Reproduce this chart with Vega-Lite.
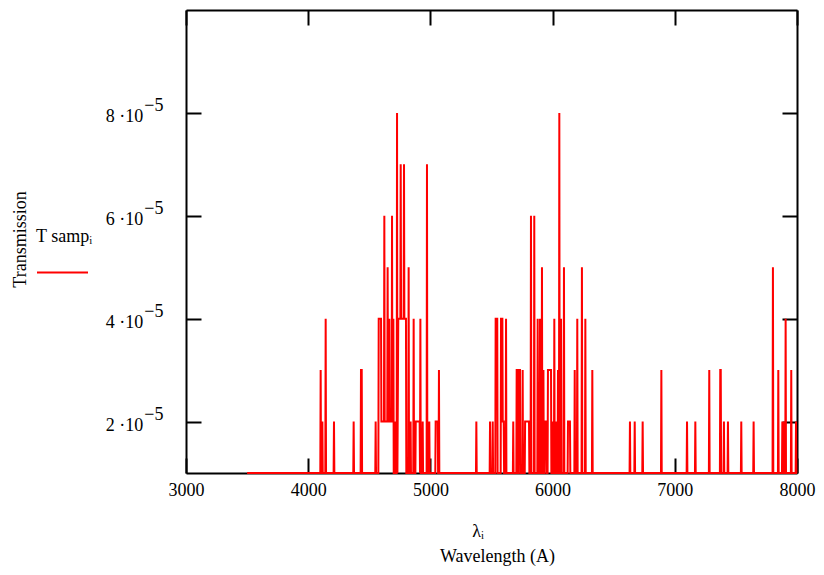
{
"$schema": "https://vega.github.io/schema/vega-lite/v6.json",
"width": 611, "height": 463,
"autosize": {"type": "none"},
"padding": {"left": 186, "top": 10, "right": 27, "bottom": 102},
"background": "white",
"config": {"view": {"stroke": null}, "font": "Liberation Serif"},
"data": {"values": [
{"w":3500,"T":1e-5},
{"w":4099,"T":1e-5},{"w":4102,"T":3e-5},{"w":4105,"T":1e-5},
{"w":4113,"T":1e-5},{"w":4116,"T":2e-5},{"w":4119,"T":1e-5},
{"w":4140,"T":1e-5},{"w":4143,"T":4e-5},{"w":4146,"T":1e-5},
{"w":4208,"T":1e-5},{"w":4211,"T":2e-5},{"w":4214,"T":1e-5},
{"w":4369,"T":1e-5},{"w":4372,"T":2e-5},{"w":4375,"T":1e-5},
{"w":4429,"T":1e-5},{"w":4432,"T":3e-5},{"w":4438,"T":3e-5},{"w":4441,"T":1e-5},
{"w":4549,"T":1e-5},{"w":4552,"T":2e-5},{"w":4555,"T":1e-5},
{"w":4574,"T":1e-5},{"w":4577,"T":4e-5},{"w":4596,"T":4e-5},{"w":4599,"T":2e-5},
{"w":4620,"T":2e-5},{"w":4623,"T":6e-5},{"w":4626,"T":2e-5},
{"w":4647,"T":2e-5},{"w":4650,"T":5e-5},{"w":4653,"T":2e-5},
{"w":4661,"T":2e-5},{"w":4664,"T":4e-5},{"w":4667,"T":2e-5},
{"w":4683,"T":2e-5},{"w":4686,"T":6e-5},{"w":4689,"T":2e-5},
{"w":4694,"T":2e-5},{"w":4697,"T":4e-5},{"w":4700,"T":1e-5},
{"w":4707,"T":1e-5},{"w":4710,"T":2e-5},{"w":4713,"T":1e-5},
{"w":4724,"T":1e-5},{"w":4727,"T":8e-5},{"w":4730,"T":1e-5},
{"w":4737,"T":4e-5},{"w":4754,"T":4e-5},{"w":4757,"T":7e-5},{"w":4760,"T":4e-5},
{"w":4781,"T":4e-5},{"w":4784,"T":7e-5},{"w":4787,"T":4e-5},{"w":4800,"T":4e-5},{"w":4803,"T":1e-5},
{"w":4819,"T":1e-5},{"w":4822,"T":5e-5},{"w":4825,"T":1e-5},
{"w":4835,"T":1e-5},{"w":4838,"T":2e-5},{"w":4841,"T":1e-5},
{"w":4860,"T":1e-5},{"w":4863,"T":4e-5},{"w":4866,"T":1e-5},
{"w":4877,"T":1e-5},{"w":4880,"T":2e-5},{"w":4912,"T":2e-5},{"w":4915,"T":1e-5},
{"w":4918,"T":4e-5},{"w":4921,"T":1e-5},
{"w":4934,"T":1e-5},{"w":4937,"T":2e-5},{"w":4940,"T":1e-5},
{"w":4969,"T":1e-5},{"w":4972,"T":7e-5},{"w":4975,"T":1e-5},
{"w":4988,"T":1e-5},{"w":4991,"T":2e-5},{"w":4994,"T":1e-5},
{"w":5040,"T":1e-5},{"w":5043,"T":2e-5},{"w":5060,"T":2e-5},{"w":5063,"T":1e-5},
{"w":5067,"T":1e-5},{"w":5070,"T":3e-5},{"w":5073,"T":1e-5},
{"w":5373,"T":1e-5},{"w":5376,"T":2e-5},{"w":5379,"T":1e-5},
{"w":5485,"T":1e-5},{"w":5488,"T":2e-5},{"w":5491,"T":1e-5},
{"w":5507,"T":1e-5},{"w":5510,"T":2e-5},{"w":5513,"T":1e-5},
{"w":5531,"T":1e-5},{"w":5534,"T":4e-5},{"w":5547,"T":4e-5},{"w":5550,"T":1e-5},
{"w":5575,"T":1e-5},{"w":5578,"T":4e-5},{"w":5589,"T":4e-5},{"w":5592,"T":2e-5},{"w":5600,"T":2e-5},{"w":5603,"T":1e-5},
{"w":5616,"T":1e-5},{"w":5619,"T":4e-5},{"w":5622,"T":1e-5},
{"w":5675,"T":1e-5},{"w":5678,"T":2e-5},{"w":5681,"T":1e-5},
{"w":5703,"T":1e-5},{"w":5706,"T":3e-5},{"w":5710,"T":3e-5},{"w":5713,"T":1e-5},
{"w":5719,"T":1e-5},{"w":5722,"T":3e-5},{"w":5733,"T":3e-5},{"w":5736,"T":1e-5},
{"w":5752,"T":1e-5},{"w":5755,"T":3e-5},{"w":5758,"T":1e-5},
{"w":5772,"T":1e-5},{"w":5775,"T":2e-5},{"w":5807,"T":2e-5},{"w":5810,"T":1e-5},
{"w":5820,"T":1e-5},{"w":5823,"T":6e-5},{"w":5826,"T":1e-5},
{"w":5847,"T":1e-5},{"w":5850,"T":6e-5},{"w":5853,"T":1e-5},
{"w":5875,"T":1e-5},{"w":5878,"T":4e-5},{"w":5881,"T":1e-5},
{"w":5894,"T":1e-5},{"w":5897,"T":4e-5},{"w":5900,"T":1e-5},
{"w":5910,"T":1e-5},{"w":5913,"T":5e-5},{"w":5916,"T":1e-5},
{"w":5922,"T":1e-5},{"w":5925,"T":3e-5},{"w":5928,"T":1e-5},
{"w":5935,"T":1e-5},{"w":5938,"T":2e-5},{"w":5950,"T":2e-5},{"w":5953,"T":1e-5},
{"w":5959,"T":1e-5},{"w":5962,"T":3e-5},{"w":5987,"T":3e-5},{"w":5990,"T":1e-5},
{"w":5995,"T":1e-5},{"w":5998,"T":2e-5},{"w":6001,"T":1e-5},
{"w":6011,"T":1e-5},{"w":6014,"T":4e-5},{"w":6017,"T":1e-5},
{"w":6025,"T":1e-5},{"w":6028,"T":2e-5},{"w":6031,"T":1e-5},
{"w":6041,"T":1e-5},{"w":6044,"T":3e-5},{"w":6047,"T":1e-5},
{"w":6052,"T":1e-5},{"w":6055,"T":8e-5},{"w":6058,"T":1e-5},
{"w":6066,"T":1e-5},{"w":6069,"T":4e-5},{"w":6072,"T":1e-5},
{"w":6090,"T":1e-5},{"w":6093,"T":5e-5},{"w":6096,"T":1e-5},
{"w":6123,"T":1e-5},{"w":6126,"T":2e-5},{"w":6142,"T":2e-5},{"w":6145,"T":1e-5},
{"w":6178,"T":1e-5},{"w":6181,"T":3e-5},{"w":6184,"T":1e-5},
{"w":6199,"T":1e-5},{"w":6202,"T":4e-5},{"w":6205,"T":1e-5},
{"w":6237,"T":1e-5},{"w":6240,"T":5e-5},{"w":6243,"T":1e-5},
{"w":6265,"T":1e-5},{"w":6268,"T":4e-5},{"w":6271,"T":1e-5},
{"w":6322,"T":1e-5},{"w":6325,"T":3e-5},{"w":6328,"T":1e-5},
{"w":6630,"T":1e-5},{"w":6633,"T":2e-5},{"w":6636,"T":1e-5},
{"w":6669,"T":1e-5},{"w":6672,"T":2e-5},{"w":6675,"T":1e-5},
{"w":6734,"T":1e-5},{"w":6737,"T":2e-5},{"w":6740,"T":1e-5},
{"w":6887,"T":1e-5},{"w":6890,"T":3e-5},{"w":6893,"T":1e-5},
{"w":7097,"T":1e-5},{"w":7100,"T":2e-5},{"w":7103,"T":1e-5},
{"w":7165,"T":1e-5},{"w":7168,"T":2e-5},{"w":7171,"T":1e-5},
{"w":7279,"T":1e-5},{"w":7282,"T":3e-5},{"w":7285,"T":1e-5},
{"w":7369,"T":1e-5},{"w":7372,"T":3e-5},{"w":7376,"T":3e-5},{"w":7379,"T":1e-5},
{"w":7399,"T":1e-5},{"w":7402,"T":2e-5},{"w":7405,"T":1e-5},
{"w":7432,"T":1e-5},{"w":7435,"T":2e-5},{"w":7438,"T":1e-5},
{"w":7541,"T":1e-5},{"w":7544,"T":2e-5},{"w":7547,"T":1e-5},
{"w":7642,"T":1e-5},{"w":7645,"T":2e-5},{"w":7648,"T":1e-5},
{"w":7800,"T":1e-5},{"w":7803,"T":5e-5},{"w":7806,"T":1e-5},
{"w":7844,"T":1e-5},{"w":7847,"T":3e-5},{"w":7850,"T":1e-5},
{"w":7877,"T":1e-5},{"w":7880,"T":2e-5},{"w":7883,"T":1e-5},
{"w":7890,"T":1e-5},{"w":7893,"T":2e-5},{"w":7896,"T":1e-5},
{"w":7904,"T":1e-5},{"w":7907,"T":4e-5},{"w":7910,"T":1e-5},
{"w":7950,"T":1e-5},{"w":7953,"T":3e-5},{"w":7956,"T":1e-5},
{"w":7989,"T":1e-5},{"w":7992,"T":2e-5},{"w":7995,"T":1e-5},
{"w":8000,"T":1e-5}
]},
"layer": [
{
"mark": {"type": "line", "strokeWidth": 2, "clip": false},
"encoding": {
"x": {"field": "w", "type": "quantitative",
 "scale": {"domain": [3000, 8000], "nice": false, "zero": false},
 "axis": {"orient": "bottom", "values": [3000,4000,5000,6000,7000,8000], "format": "d",
  "grid": false, "tickSize": -15, "tickWidth": 2, "tickColor": "black",
  "domainColor": "black", "domainWidth": 2,
  "labelFont": "Liberation Serif", "labelFontSize": 18, "labelColor": "black",
  "labelPadding": 37, "labelBaseline": "alphabetic", "labelFlush": false, "labelOverlap": false,
  "title": ["λᵢ\u2800\u2800\u2800", "Wavelength (A)"],
  "titleFont": "Liberation Serif", "titleFontSize": 18, "titleFontWeight": "normal", "titleColor": "black",
  "titleLineHeight": 25, "titleBaseline": "alphabetic", "titleAlign": "center",
  "titleX": 311, "titleY": 63}},
"y": {"field": "T", "type": "quantitative",
 "scale": {"domain": [1e-5, 1e-4], "nice": false, "zero": false},
 "axis": {"orient": "left", "values": [2e-5,4e-5,6e-5,8e-5],
  "grid": false, "tickSize": -15, "tickWidth": 2, "tickColor": "black",
  "domainColor": "black", "domainWidth": 2,
  "labelExpr": "['\u22125', format(datum.value*1e5, 'd') + ' \u00b710\u2009\u2009\u2800']",
  "labelFont": "Liberation Serif", "labelFontSize": 18, "labelColor": "black",
  "labelAlign": "right", "labelBaseline": "alphabetic", "labelLineHeight": 11, "labelOffset": -2,
  "labelPadding": 38,
  "title": "Transmission",
  "titleFont": "Liberation Serif", "titleFontSize": 18, "titleFontWeight": "normal", "titleColor": "black",
  "titleAngle": -90, "titleAlign": "center", "titleBaseline": "middle",
  "titleX": -166, "titleY": 229}},
"color": {"datum": "T samp", "type": "nominal",
 "scale": {"range": ["#ff0000"]},
 "legend": {"orient": "none", "legendX": -150, "legendY": 218,
  "title": "T  sampᵢ", "titleFont": "Liberation Serif", "titleFontSize": 18, "titleFontWeight": "normal",
  "titleColor": "black", "titlePadding": 0, "padding": 0,
  "labelExpr": "''", "symbolType": "stroke", "symbolSize": 2601, "symbolStrokeWidth": 2}}
}
},
{
"mark": {"type": "line", "strokeOpacity": 0},
"encoding": {
"x": {"field": "w", "type": "quantitative",
 "axis": {"orient": "top", "values": [3000,4000,5000,6000,7000,8000], "labels": false, "title": null,
  "grid": false, "tickSize": -15, "tickWidth": 2, "tickColor": "black", "domainColor": "black", "domainWidth": 2}},
"y": {"field": "T", "type": "quantitative",
 "axis": {"orient": "right", "values": [2e-5,4e-5,6e-5,8e-5], "labels": false, "title": null,
  "grid": false, "tickSize": -15, "tickWidth": 2, "tickColor": "black", "domainColor": "black", "domainWidth": 2}}
}
}
],
"resolve": {"axis": {"x": "independent", "y": "independent"}}
}
